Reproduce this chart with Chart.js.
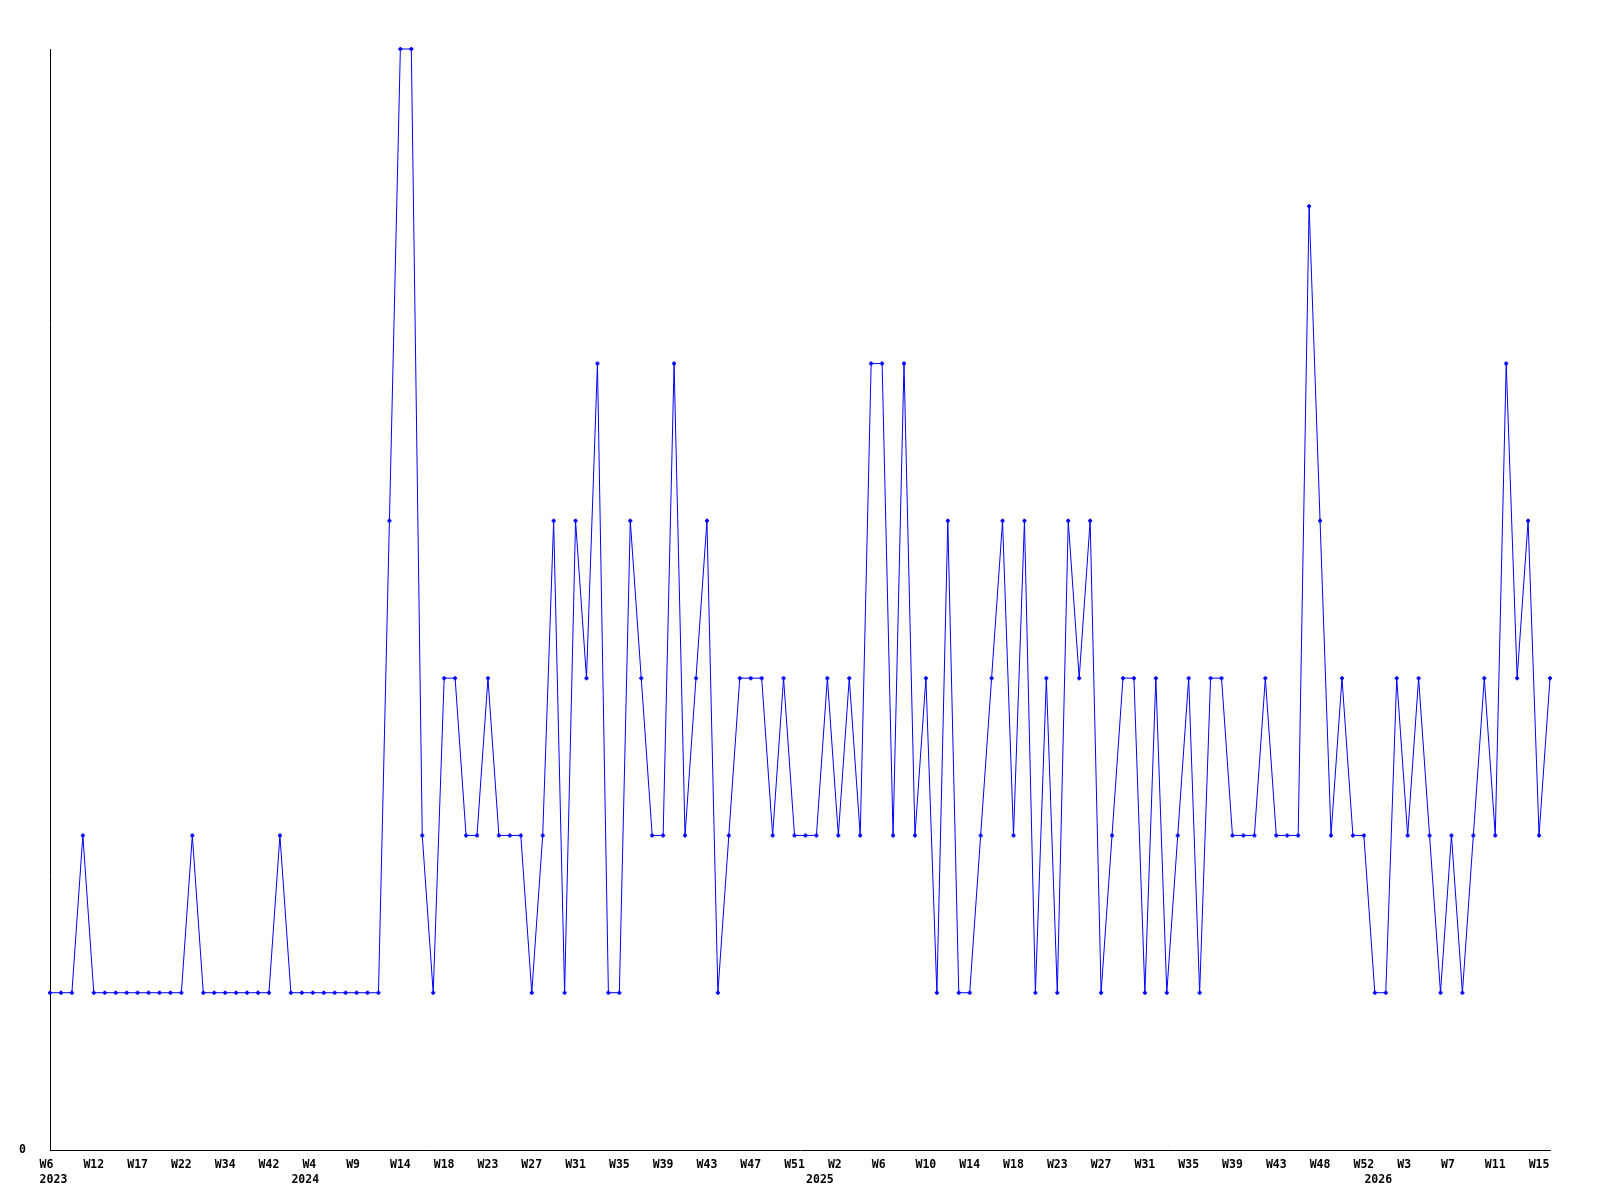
<!DOCTYPE html>
<html>
<head>
<meta charset="utf-8">
<style>
  html, body { margin: 0; padding: 0; background: #ffffff; }
  #wrap { width: 1600px; height: 1200px; position: relative; }
</style>
<script src="https://cdn.jsdelivr.net/npm/chart.js@4.4.1/dist/chart.umd.min.js"></script>
</head>
<body>
<div id="wrap"><canvas id="c" width="1600" height="1200"></canvas></div>
<script>
// Week categories (one per data point)
const weekLabels = [
  'W6','W7','W8','W10','W12','W13','W14','W15','W17','W18',
  'W19','W20','W22','W25','W28','W31','W34','W36','W38','W40',
  'W42','W44','W47','W0','W4','W5','W6','W7','W9','W10',
  'W11','W12','W14','W15','W16','W17','W18','W19','W20','W22',
  'W23','W24','W25','W26','W27','W28','W29','W30','W31','W32',
  'W33','W34','W35','W36','W37','W38','W39','W40','W41','W42',
  'W43','W44','W45','W46','W47','W48','W49','W50','W51','W52',
  'W0','W1','W2','W3','W4','W5','W6','W7','W8','W9',
  'W10','W11','W12','W13','W14','W15','W16','W17','W18','W19',
  'W20','W21','W23','W24','W25','W26','W27','W28','W29','W30',
  'W31','W32','W33','W34','W35','W36','W37','W38','W39','W40',
  'W41','W42','W43','W44','W45','W46','W48','W49','W50','W51',
  'W52','W0','W1','W2','W3','W4','W5','W6','W7','W8',
  'W9','W10','W11','W12','W13','W14','W15','W16'
];

// Series values
const counts = [
  1,1,1,2,1,1,1,1,1,1,
  1,1,1,2,1,1,1,1,1,1,
  1,2,1,1,1,1,1,1,1,1,
  1,4,7,7,2,1,3,3,2,2,
  3,2,2,2,1,2,4,1,4,3,
  5,1,1,4,3,2,2,5,2,3,
  4,1,2,3,3,3,2,3,2,2,
  2,3,2,3,2,5,5,2,5,2,
  3,1,4,1,1,2,3,4,2,4,
  1,3,1,4,3,4,1,2,3,3,
  1,3,1,2,3,1,3,3,2,2,
  2,3,2,2,2,6,4,2,3,2,
  2,1,1,3,2,3,2,1,2,1,
  2,3,2,5,3,4,2,3
];

// Year labels and the point index where each year starts
const yearText = ['2023','2024','2025','2026'];
const yearIndex = [0, 23, 70, 121];

// Y tick labels shown
const yTickValues = [0];

const NB = '\u00a0';
const tickFont = { family: '"DejaVu Sans Mono", monospace', size: 11.5, weight: 'bold', lineHeight: 15.5 / 11.5 };

new Chart(document.getElementById('c'), {
  type: 'line',
  data: {
    labels: weekLabels,
    datasets: [{
      data: counts,
      borderColor: '#0000ff',
      backgroundColor: '#0000ff',
      borderWidth: 1,
      tension: 0,
      fill: false,
      pointStyle: 'cross',
      pointRadius: 2,
      pointBorderWidth: 2,
      pointBorderColor: '#0000ff',
      pointBackgroundColor: '#0000ff',
      pointHoverRadius: 2,
      clip: false
    }]
  },
  options: {
    responsive: false,
    animation: false,
    devicePixelRatio: 1,
    layout: { padding: { top: 49, right: 50, left: 0, bottom: 0 } },
    plugins: { legend: { display: false }, tooltip: { enabled: false }, title: { display: false } },
    scales: {
      x: {
        type: 'category',
        offset: false,
        grid: { display: false, drawTicks: false },
        border: { display: true, color: '#000000', width: 1 },
        ticks: {
          autoSkip: false,
          maxRotation: 0,
          minRotation: 0,
          padding: 7,
          color: '#000000',
          font: tickFont,
          callback: function(v, i) {
            const yi = yearIndex.indexOf(i);
            const w = (i % 4 === 0) ? weekLabels[i].padEnd(3, NB) : '';
            if (yi >= 0) return [w, NB + yearText[yi]];
            return (i % 4 === 0) ? w : null;
          }
        },
        afterFit: function(s) { s.height = 50; }
      },
      y: {
        min: 0,
        max: 7,
        grid: { display: false, drawTicks: false },
        border: { display: true, color: '#000000', width: 1 },
        ticks: {
          padding: 24,
          color: '#000000',
          font: tickFont,
          callback: function(v) { return yTickValues.includes(v) ? String(v) : null; }
        },
        afterBuildTicks: function(s) { s.ticks = yTickValues.map(v => ({ value: v })); },
        afterFit: function(s) { s.width = 50; }
      }
    }
  }
});
</script>
</body>
</html>
